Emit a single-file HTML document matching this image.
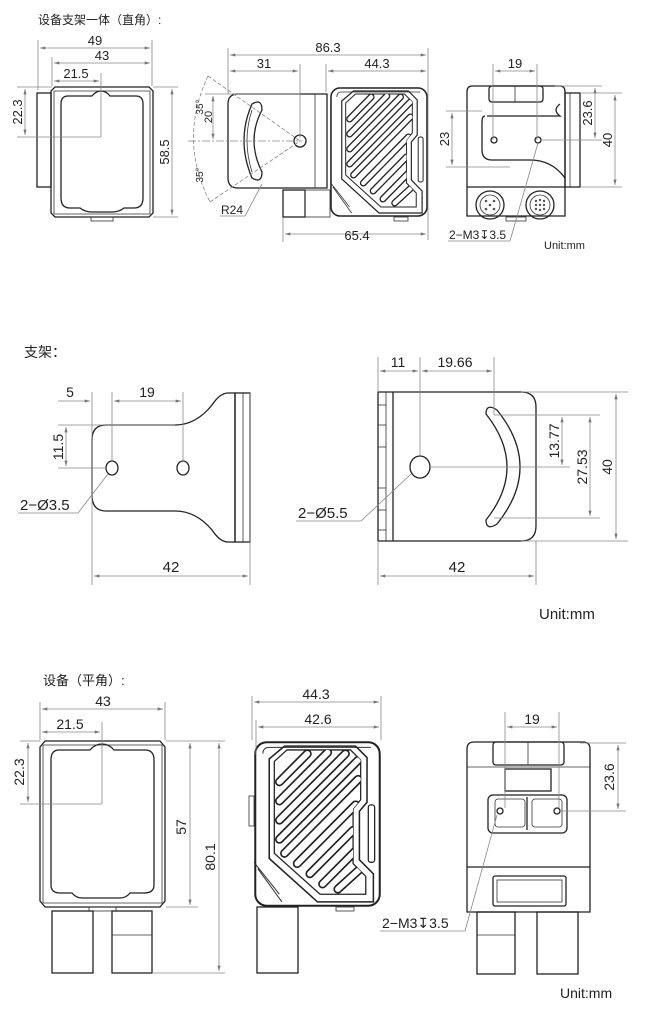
<!DOCTYPE html>
<html><head><meta charset="utf-8"><style>
html,body{margin:0;padding:0;background:#fff;}
svg{display:block;}
text{font-family:"Liberation Sans","Noto Sans CJK SC",sans-serif;fill:#222;}
.d{stroke:#888;stroke-width:0.8;fill:none;}
.o{stroke:#222;stroke-width:1.3;fill:none;}
.t{stroke:#333;stroke-width:0.8;fill:none;}
.n{font-size:13px;}
</style></head><body>
<svg width="667" height="1029" viewBox="0 0 667 1029" xmlns="http://www.w3.org/2000/svg">
<defs>
<marker id="a" viewBox="0 0 10 6" refX="10" refY="3" markerWidth="7" markerHeight="4" orient="auto-start-reverse"><path d="M0,0L10,3L0,6z" fill="#777"/></marker>
<clipPath id="hc"><path d="M16,16 L26,7 L76,7 L84,15 L84,46 L78,53 L78,96 L88,106 L88,120 L52,120 L16,88Z"/></clipPath>
<symbol id="cam" viewBox="0 0 100 130" preserveAspectRatio="none">
<rect x="1" y="1" width="98" height="128" rx="9" fill="#fff" stroke="#222" stroke-width="1.6"/>
<path d="M7,10 Q7,5 12,5 L92,5" stroke="#333" fill="none" stroke-width="0.8"/>
<path d="M12,14 L24,4 L80,4 L89,13 L89,48 L83,55 L83,93 L94,104 L94,126 L50,126 L12,92Z" fill="none" stroke="#222" stroke-width="1.2"/>
<path d="M16,16 L26,7 L76,7 L84,15 L84,46 L78,53 L78,96 L88,106 L88,120 L52,120 L16,88Z" fill="none" stroke="#222" stroke-width="1"/>
<g clip-path="url(#hc)" stroke-linecap="round">
<g stroke="#222" stroke-width="7">
<path d="M20,32L42,10M20,47L58,9M20,62L72,10M20,77L82,15M24,88L82,30M34,96L80,50M44,104L78,70M54,112L80,86M66,116L86,98"/></g>
<g stroke="#fff" stroke-width="4.4">
<path d="M20,32L42,10M20,47L58,9M20,62L72,10M20,77L82,15M24,88L82,30M34,96L80,50M44,104L78,70M54,112L80,86M66,116L86,98"/></g>
</g>
<rect x="90" y="50" width="5" height="45" rx="2" fill="none" stroke="#222" stroke-width="1"/>
<path d="M0,95 L20,120 M3,100 L22,126" stroke="#333" stroke-width="0.8"/>
</symbol>
</defs>

<!-- ===== TOP SECTION ===== -->
<text x="38" y="24" font-size="12">设备支架一体（直角）:</text>
<rect x="37" y="93" width="14" height="94" class="o"/>
<path d="M55,87 L149,87 L153,91 L153,213 L149,217 L55,217 L51,213 L51,91Z" class="o" stroke-width="1.6"/>
<path d="M54,91 L150,91 L150,214 L54,214Z" class="t"/>
<path d="M68,96 Q61,96 61,104 L61,198 Q61,208 70,208 L80,208 Q85,212 92,212 L112,212 Q119,212 124,208 L134,208 Q143,208 143,198 L143,104 Q143,96 136,96 L110,96 Q106,91 101,91 Q96,91 92,96Z" class="o"/>
<rect x="91" y="217" width="22" height="4" class="t"/>
<line x1="38" y1="40" x2="38" y2="90" class="d"/><line x1="152" y1="40" x2="152" y2="86" class="d"/>
<line x1="40" y1="48" x2="150" y2="48" class="d" marker-start="url(#a)" marker-end="url(#a)"/>
<text x="95" y="45" class="n" text-anchor="middle">49</text>
<line x1="52" y1="57" x2="52" y2="86" class="d"/>
<line x1="54" y1="63" x2="150" y2="63" class="d" marker-start="url(#a)" marker-end="url(#a)"/>
<text x="102" y="60" class="n" text-anchor="middle">43</text>
<line x1="101" y1="73" x2="101" y2="137" class="d"/>
<line x1="54" y1="81" x2="99" y2="81" class="d" marker-start="url(#a)" marker-end="url(#a)"/>
<text x="76" y="78" class="n" text-anchor="middle">21.5</text>
<line x1="17" y1="87" x2="52" y2="87" class="d"/><line x1="17" y1="137" x2="101" y2="137" class="d"/>
<line x1="25" y1="89" x2="25" y2="135" class="d" marker-start="url(#a)" marker-end="url(#a)"/>
<text transform="translate(22,112) rotate(-90)" class="n" text-anchor="middle">22.3</text>
<line x1="153" y1="87" x2="178" y2="87" class="d"/><line x1="153" y1="217" x2="178" y2="217" class="d"/>
<line x1="172" y1="89" x2="172" y2="215" class="d" marker-start="url(#a)" marker-end="url(#a)"/>
<text transform="translate(169,152) rotate(-90)" class="n" text-anchor="middle">58.5</text>

<path d="M238,94 L327,94 L327,188 L238,188 Q228,188 228,178 L228,104 Q228,94 238,94Z" class="o"/>
<line x1="315" y1="94" x2="315" y2="188" class="t"/>
<path d="M252,104 Q262,98 262,110 Q246,140 262,172 Q262,184 252,178 Q236,140 252,104Z" class="o"/>
<path d="M252,110 Q242,140 252,172" class="t"/>
<circle cx="300" cy="141" r="6" class="o"/>
<line x1="188" y1="141" x2="302" y2="141" class="d" stroke-dasharray="8,2,2,2"/>
<line x1="208" y1="76" x2="300" y2="141" class="d" stroke-dasharray="4,2"/>
<line x1="210" y1="202" x2="300" y2="141" class="d" stroke-dasharray="4,2"/>
<path d="M208,76 Q178,140 210,202" class="d" stroke-dasharray="4,2"/>
<line x1="205" y1="94" x2="300" y2="94" class="d"/>
<line x1="213" y1="96" x2="213" y2="139" class="d" marker-start="url(#a)" marker-end="url(#a)"/>
<text transform="translate(212,117) rotate(-90)" font-size="11" text-anchor="middle">20</text>
<text transform="translate(203,107) rotate(-90)" font-size="10" text-anchor="middle">35°</text>
<text transform="translate(203,175) rotate(-90)" font-size="10" text-anchor="middle">35°</text>
<line x1="245" y1="216" x2="262" y2="184" class="d"/><line x1="220" y1="216" x2="245" y2="216" class="d"/>
<text x="221" y="214" font-size="12">R24</text>
<rect x="283" y="190" width="22" height="27" class="o"/>
<rect x="305" y="190" width="25" height="27" class="t"/>
<use href="#cam" x="330" y="87" width="98" height="130"/>
<rect x="394" y="217" width="14" height="4" class="t"/>
<line x1="228" y1="48" x2="228" y2="94" class="d"/><line x1="428" y1="48" x2="428" y2="240" class="d"/>
<line x1="230" y1="55" x2="426" y2="55" class="d" marker-start="url(#a)" marker-end="url(#a)"/>
<text x="328" y="52" class="n" text-anchor="middle">86.3</text>
<line x1="300" y1="64" x2="300" y2="138" class="d"/>
<line x1="230" y1="71" x2="298" y2="71" class="d" marker-start="url(#a)" marker-end="url(#a)"/>
<text x="264" y="68" class="n" text-anchor="middle">31</text>
<line x1="326" y1="64" x2="326" y2="92" class="d"/>
<line x1="328" y1="71" x2="426" y2="71" class="d" marker-start="url(#a)" marker-end="url(#a)"/>
<text x="377" y="68" class="n" text-anchor="middle">44.3</text>
<line x1="283" y1="218" x2="283" y2="242" class="d"/>
<line x1="285" y1="234" x2="426" y2="234" class="d" marker-start="url(#a)" marker-end="url(#a)"/>
<text x="357" y="240" class="n" text-anchor="middle">65.4</text>

<rect x="565" y="93" width="15" height="94" class="o"/>
<line x1="570" y1="93" x2="570" y2="187" class="t"/>
<path d="M472,86 L560,86 Q565,86 565,92 L565,216 L467,216 L467,92 Q467,86 472,86Z" class="o" stroke-width="1.5"/>
<rect x="489" y="86" width="54" height="16" rx="3" class="o"/>
<line x1="515" y1="86" x2="515" y2="102" class="t"/>
<path d="M487,116 L560,116 Q552,110 560,104 M485,116 Q482,116 482,122 L482,150 Q482,160 492,160 L530,160 Q552,160 565,178" class="o"/>
<line x1="467" y1="187" x2="565" y2="187" class="o"/>
<circle cx="494" cy="140" r="3" class="o"/><circle cx="538" cy="140" r="3" class="o"/>
<circle cx="490" cy="205" r="14" class="o"/><circle cx="490" cy="205" r="10" class="t"/>
<circle cx="540" cy="205" r="14" class="o"/><circle cx="540" cy="205" r="10" class="t"/>
<g fill="#555"><circle cx="486" cy="201" r="1.3"/><circle cx="494" cy="201" r="1.3"/><circle cx="486" cy="209" r="1.3"/><circle cx="494" cy="209" r="1.3"/><circle cx="490" cy="205" r="1.3"/>
<circle cx="536" cy="201" r="1.2"/><circle cx="540" cy="200" r="1.2"/><circle cx="544" cy="201" r="1.2"/><circle cx="536" cy="205" r="1.2"/><circle cx="540" cy="205" r="1.2"/><circle cx="544" cy="205" r="1.2"/><circle cx="536" cy="209" r="1.2"/><circle cx="540" cy="210" r="1.2"/><circle cx="544" cy="209" r="1.2"/></g>
<rect x="506" y="217" width="20" height="4" class="t"/>
<line x1="493" y1="64" x2="493" y2="140" class="d"/><line x1="537" y1="64" x2="537" y2="140" class="d"/>
<line x1="495" y1="71" x2="535" y2="71" class="d" marker-start="url(#a)" marker-end="url(#a)"/>
<text x="515" y="68" class="n" text-anchor="middle">19</text>
<line x1="446" y1="111" x2="482" y2="111" class="d"/><line x1="446" y1="167" x2="510" y2="167" class="d"/>
<line x1="452" y1="113" x2="452" y2="165" class="d" marker-start="url(#a)" marker-end="url(#a)"/>
<text transform="translate(449,139) rotate(-90)" class="n" text-anchor="middle">23</text>
<line x1="555" y1="86" x2="602" y2="86" class="d"/><line x1="541" y1="140" x2="602" y2="140" class="d"/>
<line x1="595" y1="88" x2="595" y2="138" class="d" marker-start="url(#a)" marker-end="url(#a)"/>
<text transform="translate(592,113) rotate(-90)" class="n" text-anchor="middle">23.6</text>
<line x1="580" y1="93" x2="622" y2="93" class="d"/><line x1="580" y1="187" x2="622" y2="187" class="d"/>
<line x1="615" y1="95" x2="615" y2="185" class="d" marker-start="url(#a)" marker-end="url(#a)"/>
<text transform="translate(612,140) rotate(-90)" class="n" text-anchor="middle">40</text>
<line x1="448" y1="241" x2="510" y2="241" class="d"/><line x1="510" y1="241" x2="538" y2="143" class="d"/>
<text x="449" y="239" font-size="12">2−M3↧3.5</text>
<text x="544" y="249" font-size="11">Unit:mm</text>

<!-- ===== BRACKET SECTION ===== -->
<text x="24" y="357" font-size="14">支架：</text>
<path d="M235,393 L228,393 Q220,393 212,405 Q196,425 175,425 L106,425 Q92,425 92,440 L92,495 Q92,511 106,511 L175,511 Q196,511 212,530 Q220,542 228,542 L235,542Z" class="o"/>
<rect x="235" y="393" width="15" height="149" class="o"/>
<line x1="243" y1="393" x2="243" y2="542" class="t"/>
<ellipse cx="112" cy="468" rx="6" ry="7" class="o"/>
<ellipse cx="183" cy="468" rx="6" ry="7" class="o"/>
<line x1="92" y1="392" x2="92" y2="585" class="d"/><line x1="250" y1="392" x2="250" y2="585" class="d"/>
<line x1="112" y1="392" x2="112" y2="462" class="d"/><line x1="183" y1="392" x2="183" y2="462" class="d"/>
<line x1="58" y1="401" x2="90" y2="401" class="d" marker-end="url(#a)"/>
<line x1="114" y1="401" x2="181" y2="401" class="d" marker-start="url(#a)" marker-end="url(#a)"/>
<text x="70" y="397" font-size="14" text-anchor="middle">5</text>
<text x="147" y="397" font-size="14" text-anchor="middle">19</text>
<line x1="58" y1="425" x2="175" y2="425" class="d"/><line x1="58" y1="468" x2="106" y2="468" class="d"/>
<line x1="66" y1="427" x2="66" y2="466" class="d" marker-start="url(#a)" marker-end="url(#a)"/>
<text transform="translate(63,447) rotate(-90)" font-size="14" text-anchor="middle">11.5</text>
<line x1="94" y1="576" x2="248" y2="576" class="d" marker-start="url(#a)" marker-end="url(#a)"/>
<text x="171" y="572" font-size="15" text-anchor="middle">42</text>
<line x1="18" y1="513" x2="78" y2="513" class="d"/><line x1="78" y1="513" x2="108" y2="474" class="d"/>
<text x="20" y="510" font-size="15">2−Ø3.5</text>

<path d="M378,392 L521,392 Q536,392 536,407 L536,526 Q536,541 521,541 L378,541Z" class="o"/>
<line x1="386" y1="392" x2="386" y2="541" class="t"/><line x1="393" y1="392" x2="393" y2="541" class="o"/>
<g class="t"><line x1="378" y1="405" x2="386" y2="405"/><line x1="378" y1="425" x2="386" y2="425"/><line x1="378" y1="447" x2="386" y2="447"/><line x1="378" y1="488" x2="386" y2="488"/><line x1="378" y1="510" x2="386" y2="510"/><line x1="378" y1="530" x2="386" y2="530"/></g>
<ellipse cx="420" cy="467" rx="10" ry="11" class="o"/>
<path d="M486,414 Q486,403 497,410 Q543,467 497,524 Q486,531 486,520 Q528,467 486,414Z" class="o"/>
<line x1="378" y1="357" x2="378" y2="392" class="d"/><line x1="420" y1="357" x2="420" y2="456" class="d"/><line x1="494" y1="357" x2="494" y2="415" class="d"/>
<line x1="380" y1="371" x2="418" y2="371" class="d" marker-start="url(#a)" marker-end="url(#a)"/>
<line x1="422" y1="371" x2="492" y2="371" class="d" marker-start="url(#a)" marker-end="url(#a)"/>
<text x="398" y="367" font-size="14" text-anchor="middle">11</text>
<text x="455" y="367" font-size="14" text-anchor="middle">19.66</text>
<line x1="494" y1="415" x2="600" y2="415" class="d"/><line x1="430" y1="467" x2="570" y2="467" class="d"/>
<line x1="494" y1="518" x2="600" y2="518" class="d"/>
<line x1="521" y1="392" x2="628" y2="392" class="d"/><line x1="521" y1="541" x2="628" y2="541" class="d"/>
<line x1="562" y1="417" x2="562" y2="465" class="d" marker-start="url(#a)" marker-end="url(#a)"/>
<text transform="translate(559,441) rotate(-90)" font-size="14" text-anchor="middle">13.77</text>
<line x1="590" y1="417" x2="590" y2="516" class="d" marker-start="url(#a)" marker-end="url(#a)"/>
<text transform="translate(587,467) rotate(-90)" font-size="14" text-anchor="middle">27.53</text>
<line x1="616" y1="394" x2="616" y2="539" class="d" marker-start="url(#a)" marker-end="url(#a)"/>
<text transform="translate(612,467) rotate(-90)" font-size="14" text-anchor="middle">40</text>
<line x1="378" y1="541" x2="378" y2="585" class="d"/><line x1="536" y1="541" x2="536" y2="585" class="d"/>
<line x1="380" y1="576" x2="534" y2="576" class="d" marker-start="url(#a)" marker-end="url(#a)"/>
<text x="457" y="572" font-size="15" text-anchor="middle">42</text>
<line x1="296" y1="521" x2="361" y2="521" class="d"/><line x1="361" y1="521" x2="411" y2="474" class="d"/>
<text x="298" y="518" font-size="15">2−Ø5.5</text>
<text x="539" y="619" font-size="15">Unit:mm</text>

<!-- ===== BOTTOM SECTION ===== -->
<text x="43" y="685" font-size="13">设备（平角）:</text>
<path d="M45,741 L160,741 L165,747 L165,901 L160,907 L45,907 L40,901 L40,747Z" class="o" stroke-width="1.6"/>
<path d="M43,745 L162,745 L162,903 L43,903Z" class="t"/>
<path d="M59,750 Q51,750 51,760 L51,885 Q51,893 60,893 L72,893 Q76,898 82,898 L120,898 Q126,898 130,893 L144,893 Q154,893 154,885 L154,760 Q154,750 145,750 L114,750 Q109,744 102,744 Q95,744 90,750Z" class="o"/>
<rect x="89" y="907" width="27" height="4" class="t"/>
<rect x="52" y="911" width="41" height="62" class="o"/>
<rect x="112" y="911" width="40" height="62" class="o"/><line x1="112" y1="935" x2="152" y2="935" class="t"/>
<line x1="40" y1="702" x2="40" y2="740" class="d"/><line x1="165" y1="702" x2="165" y2="740" class="d"/>
<line x1="42" y1="709" x2="163" y2="709" class="d" marker-start="url(#a)" marker-end="url(#a)"/>
<text x="103" y="706" font-size="14" text-anchor="middle">43</text>
<line x1="102" y1="722" x2="102" y2="804" class="d"/>
<line x1="42" y1="732" x2="100" y2="732" class="d" marker-start="url(#a)" marker-end="url(#a)"/>
<text x="70" y="729" font-size="14" text-anchor="middle">21.5</text>
<line x1="20" y1="741" x2="40" y2="741" class="d"/><line x1="20" y1="804" x2="102" y2="804" class="d"/>
<line x1="28" y1="743" x2="28" y2="802" class="d" marker-start="url(#a)" marker-end="url(#a)"/>
<text transform="translate(24,772) rotate(-90)" font-size="14" text-anchor="middle">22.3</text>
<line x1="166" y1="741" x2="225" y2="741" class="d"/><line x1="166" y1="907" x2="198" y2="907" class="d"/><line x1="152" y1="973" x2="225" y2="973" class="d"/>
<line x1="190" y1="743" x2="190" y2="905" class="d" marker-start="url(#a)" marker-end="url(#a)"/>
<text transform="translate(186,827) rotate(-90)" font-size="14" text-anchor="middle">57</text>
<line x1="219" y1="743" x2="219" y2="971" class="d" marker-start="url(#a)" marker-end="url(#a)"/>
<text transform="translate(215,857) rotate(-90)" font-size="14" text-anchor="middle">80.1</text>
<use href="#cam" x="254" y="741" width="127" height="166"/>
<rect x="249" y="796" width="5" height="30" class="t"/>
<rect x="257" y="907" width="41" height="66" class="o"/>
<rect x="336" y="907" width="18" height="4" class="t"/>
<line x1="252" y1="696" x2="252" y2="740" class="d"/><line x1="381" y1="696" x2="381" y2="740" class="d"/>
<line x1="254" y1="702" x2="379" y2="702" class="d" marker-start="url(#a)" marker-end="url(#a)"/>
<text x="316" y="699" font-size="14" text-anchor="middle">44.3</text>
<line x1="256" y1="720" x2="256" y2="755" class="d"/>
<line x1="258" y1="727" x2="379" y2="727" class="d" marker-start="url(#a)" marker-end="url(#a)"/>
<text x="318" y="724" font-size="14" text-anchor="middle">42.6</text>
<path d="M474,742 L583,742 Q590,742 590,749 L590,912 L467,912 L467,749 Q467,742 474,742Z" class="o" stroke-width="1.5"/>
<line x1="467" y1="767" x2="590" y2="767" class="t"/>
<rect x="493" y="742" width="71" height="23" rx="3" class="o"/>
<line x1="528" y1="742" x2="528" y2="765" class="t"/>
<rect x="505" y="769" width="46" height="22" class="o"/>
<rect x="488" y="795" width="79" height="38" rx="5" class="o"/>
<rect x="495" y="799" width="30" height="28" rx="3" class="t"/><rect x="532" y="799" width="30" height="28" rx="3" class="t"/>
<line x1="527" y1="797" x2="527" y2="830" class="o"/>
<circle cx="500" cy="811" r="3" class="o"/><circle cx="557" cy="811" r="3" class="o"/>
<line x1="467" y1="867" x2="590" y2="867" class="o"/>
<rect x="493" y="876" width="73" height="30" rx="2" class="o"/><rect x="497" y="880" width="65" height="22" class="t"/>
<rect x="477" y="912" width="38" height="62" class="o"/><line x1="477" y1="935" x2="515" y2="935" class="t"/>
<rect x="537" y="912" width="41" height="62" class="o"/>
<line x1="505" y1="712" x2="505" y2="808" class="d"/><line x1="559" y1="712" x2="559" y2="808" class="d"/>
<line x1="507" y1="727" x2="557" y2="727" class="d" marker-start="url(#a)" marker-end="url(#a)"/>
<text x="532" y="724" font-size="14" text-anchor="middle">19</text>
<line x1="580" y1="743" x2="626" y2="743" class="d"/><line x1="560" y1="811" x2="626" y2="811" class="d"/>
<line x1="618" y1="745" x2="618" y2="809" class="d" marker-start="url(#a)" marker-end="url(#a)"/>
<text transform="translate(614,777) rotate(-90)" font-size="14" text-anchor="middle">23.6</text>
<line x1="380" y1="931" x2="465" y2="931" class="d"/><line x1="465" y1="931" x2="497" y2="815" class="d"/>
<text x="382" y="928" font-size="14">2−M3↧3.5</text>
<text x="560" y="998" font-size="14">Unit:mm</text>
</svg>
</body></html>
